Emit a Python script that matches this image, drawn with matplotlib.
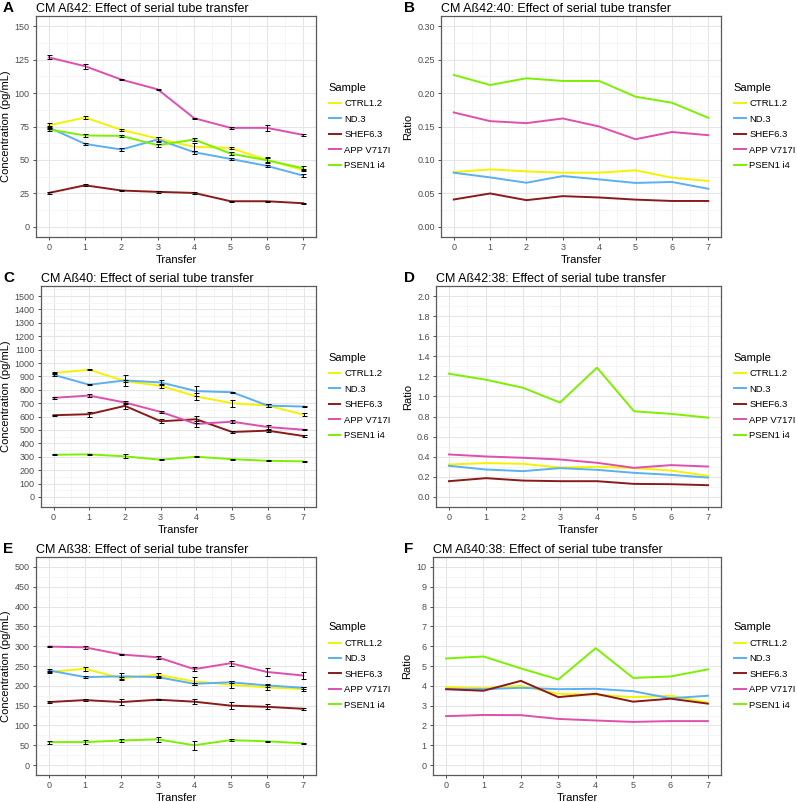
import matplotlib
matplotlib.use("Agg")
import matplotlib.pyplot as plt
from matplotlib.ticker import MultipleLocator
import numpy as np

plt.rcParams['font.family'] = ['Liberation Sans', 'DejaVu Sans']

transfer = [0, 1, 2, 3, 4, 5, 6, 7]
samples = ["CTRL1.2", "ND.3", "SHEF6.3", "APP V717I", "PSEN1 i4"]
colors = ["#F5F200", "#5AB0F0", "#8B1A1A", "#DE4FAE", "#7CF000"]

# A: Ab42 concentration (order as samples)
ab42 = [
    [75.8, 81.7, 72.5, 66.0, 59.8, 59.0, 50.0, 42.5],
    [74.3, 62.0, 57.8, 65.3, 55.8, 50.8, 45.6, 38.3],
    [25.4, 31.1, 27.2, 26.2, 25.4, 19.2, 19.2, 17.7],
    [126.6, 120.0, 110.0, 102.7, 81.2, 74.0, 74.0, 68.7],
    [72.8, 68.3, 68.0, 61.0, 65.3, 54.8, 49.8, 43.8],
]
ab42_err = [
    [1.5, 1.2, 1.0, 1.5, 3.0, 1.0, 2.5, 1.0],
    [1.0, 0.8, 1.0, 1.5, 1.0, 1.0, 1.0, 1.0],
    [0.5, 0.8, 0.5, 0.5, 0.8, 0.5, 0.5, 0.3],
    [1.5, 2.0, 0.5, 0.5, 0.5, 1.0, 2.0, 0.5],
    [1.0, 1.0, 1.0, 1.0, 1.0, 1.0, 1.5, 1.5],
]

# B: Ab42:40 ratio
ratio_42_40 = [
    [0.082, 0.086, 0.083, 0.081, 0.081, 0.0846, 0.0736, 0.0687],
    [0.081, 0.074, 0.066, 0.076, 0.071, 0.0657, 0.0672, 0.057],
    [0.041, 0.050, 0.040, 0.046, 0.044, 0.0408, 0.0388, 0.0388],
    [0.171, 0.158, 0.155, 0.162, 0.150, 0.131, 0.1418, 0.137],
    [0.227, 0.212, 0.222, 0.218, 0.218, 0.1945, 0.1855, 0.163],
]

# C: Ab40 concentration
ab40 = [
    [925, 950, 865, 830, 750, 700, 682, 615],
    [912, 838, 870, 855, 790, 782, 682, 675],
    [610, 618, 680, 565, 580, 485, 495, 455],
    [740, 757, 705, 635, 545, 562, 522, 502],
    [315, 318, 303, 278, 300, 282, 270, 266],
]
ab40_err = [
    [10, 5, 10, 15, 25, 25, 10, 12],
    [12, 5, 40, 20, 35, 5, 12, 5],
    [5, 20, 25, 15, 25, 5, 8, 5],
    [5, 10, 10, 10, 25, 10, 12, 5],
    [5, 5, 15, 5, 5, 5, 5, 5],
]

# D: Ab42:38 ratio
ratio_42_38 = [
    [0.323, 0.337, 0.330, 0.293, 0.300, 0.287, 0.263, 0.210],
    [0.310, 0.273, 0.257, 0.287, 0.270, 0.240, 0.220, 0.193],
    [0.157, 0.187, 0.163, 0.157, 0.157, 0.130, 0.127, 0.117],
    [0.423, 0.403, 0.390, 0.373, 0.340, 0.290, 0.317, 0.303],
    [1.227, 1.167, 1.087, 0.940, 1.287, 0.853, 0.827, 0.790],
]

# E: Ab38 concentration
ab38 = [
    [235, 243, 219, 228, 211, 203, 196, 192],
    [239, 222, 224, 222, 205, 209, 201, 195],
    [159, 164, 159, 165, 160, 150, 147, 142],
    [299, 297, 279, 272, 242, 257, 235, 226],
    [58, 58, 62, 65, 50, 63, 60, 55],
]
ab38_err = [
    [3, 5, 4, 5, 10, 8, 6, 4],
    [4, 2, 8, 3, 3, 3, 3, 3],
    [2, 2, 8, 2, 6, 8, 6, 3],
    [2, 3, 2, 4, 5, 6, 10, 8],
    [4, 5, 4, 6, 12, 2, 2, 1],
]

# F: Ab40:38 ratio
ratio_40_38 = [
    [3.93, 3.88, 4.00, 3.60, 3.55, 3.43, 3.50, 3.15],
    [3.83, 3.83, 3.90, 3.83, 3.85, 3.73, 3.37, 3.50],
    [3.83, 3.75, 4.25, 3.43, 3.60, 3.20, 3.35, 3.10],
    [2.47, 2.53, 2.52, 2.33, 2.25, 2.18, 2.22, 2.22],
    [5.38, 5.48, 4.88, 4.32, 5.90, 4.40, 4.47, 4.83],
]

W, H = 797, 802
fig = plt.figure(figsize=(W / 100, H / 100), dpi=100)


def px_axes(left, right, top, bottom):
    return fig.add_axes([left / W, 1 - bottom / H, (right - left) / W, (bottom - top) / H])


def style_panel(ax, ymax, ystep, ylabel, title, letter, fmt, letter_x):
    ax.set_xlim(-0.35, 7.35)
    pad = ymax * 0.05
    ax.set_ylim(-pad, ymax + pad)
    ax.xaxis.set_major_locator(MultipleLocator(1))
    ax.xaxis.set_minor_locator(MultipleLocator(0.5))
    ax.yaxis.set_major_locator(MultipleLocator(ystep))
    ax.yaxis.set_minor_locator(MultipleLocator(ystep / 2))
    ax.yaxis.set_major_formatter(plt.FuncFormatter(lambda v, p: fmt.format(v)))
    ax.grid(which="major", color="#E6E6E6", lw=0.8)
    ax.grid(which="minor", color="#F2F2F2", lw=0.5)
    ax.set_axisbelow(True)
    for s in ax.spines.values():
        s.set_color("#5A5A5A")
        s.set_linewidth(0.9)
    ax.tick_params(which="major", length=2.5, width=0.6, color="#333333",
                   labelsize=6.5, labelcolor="#4D4D4D", pad=2)
    ax.tick_params(which="minor", length=0)
    ax.set_xlabel("Transfer", fontsize=8, labelpad=2)
    ax.set_ylabel(ylabel, fontsize=8, labelpad=3)
    ax.set_title(title, loc="left", fontsize=9, pad=3)
    pos = ax.get_position()
    fig.text(letter_x / W, pos.y1 + 8 / H, letter, fontsize=11, fontweight="bold",
             va="center", ha="left")
    ax.legend(loc="center left", bbox_to_anchor=(1.015, 0.5), frameon=False,
              title="Sample", fontsize=6.8, title_fontsize=8, handlelength=1.25,
              labelspacing=0.68, handletextpad=0.4, alignment="left")


def draw(ax, values, errs=None):
    for i, (name, col) in enumerate(zip(samples, colors)):
        ax.plot(transfer, values[i], color=col, lw=1.4, label=name, zorder=3)
        if errs is not None:
            ax.errorbar(transfer, values[i], yerr=errs[i], fmt="none", ecolor="black",
                        elinewidth=0.7, capsize=1.8, capthick=0.7, zorder=4)


conc = "Concentration (pg/mL)"

axA = px_axes(36, 316, 16, 237)
draw(axA, ab42, ab42_err)
style_panel(axA, 150, 25, conc, "CM A\u00df42: Effect of serial tube transfer", "A", "{:.0f}", 3)

axB = px_axes(441, 721, 16, 237)
draw(axB, ratio_42_40)
style_panel(axB, 0.30, 0.05, "Ratio", "CM A\u00df42:40: Effect of serial tube transfer", "B", "{:.2f}", 404)

axC = px_axes(41, 316, 286, 507)
draw(axC, ab40, ab40_err)
style_panel(axC, 1500, 100, conc, "CM A\u00df40: Effect of serial tube transfer", "C", "{:.0f}", 3)

axD = px_axes(436, 721, 286, 507)
draw(axD, ratio_42_38)
style_panel(axD, 2.0, 0.2, "Ratio", "CM A\u00df42:38: Effect of serial tube transfer", "D", "{:.1f}", 404)

axE = px_axes(36, 316, 557, 775)
draw(axE, ab38, ab38_err)
style_panel(axE, 500, 50, conc, "CM A\u00df38: Effect of serial tube transfer", "E", "{:.0f}", 3)

axF = px_axes(433, 721, 557, 775)
draw(axF, ratio_40_38)
style_panel(axF, 10, 1, "Ratio", "CM A\u00df40:38: Effect of serial tube transfer", "F", "{:.0f}", 404)

fig.savefig("out.png", dpi=100)
